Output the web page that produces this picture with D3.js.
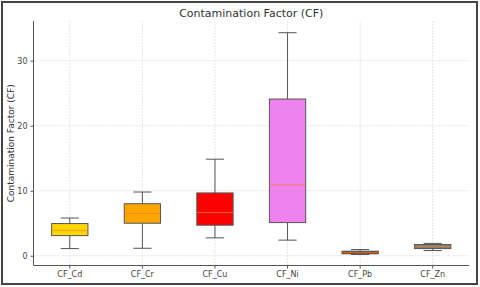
<!DOCTYPE html>
<html>
<head>
<meta charset="utf-8">
<script src="https://cdn.jsdelivr.net/npm/d3@7"></script>
<style>
  body { margin: 0; background: #fff; }
  text { font-family: "DejaVu Sans", sans-serif; }
</style>
</head>
<body>
<svg id="chart"></svg>
<script>
var width = 480, height = 287;

// box stats
var categories = ["CF_Cd", "CF_Cr", "CF_Cu", "CF_Ni", "CF_Pb", "CF_Zn"];
var whiskerLow = [1.1, 1.15, 2.75, 2.4, 0.2, 0.8];
var q1 = [3.1, 5.0, 4.7, 5.1, 0.3, 1.1];
var median = [3.9, 6.5, 6.65, 10.9, 0.5, 1.45];
var q3 = [4.95, 8.0, 9.66, 24.1, 0.7, 1.72];
var whiskerHigh = [5.8, 9.8, 14.85, 34.3, 0.95, 1.9];
var boxColors = ["#FFD700", "#FFA500", "#FF0000", "#EE82EE", "#6B2E0E", "#808080"];
var yTicks = [0, 10, 20, 30];

var rows = categories.map(function (c, i) {
  return { name: c, lo: whiskerLow[i], q1: q1[i], med: median[i], q3: q3[i], hi: whiskerHigh[i], color: boxColors[i] };
});

var svg = d3.select("#chart").attr("width", width).attr("height", height);

// outer frame
svg.append("rect")
  .attr("x", 2).attr("y", 2)
  .attr("width", 475).attr("height", 282)
  .attr("fill", "none")
  .attr("stroke", "#444")
  .attr("stroke-width", 2);

var margin = { left: 33.5, right: 469, top: 21, bottom: 265.5 };

var x = d3.scaleBand()
  .domain(categories)
  .range([margin.left, margin.right]);

var y = d3.scaleLinear()
  .domain([-1.5, 36.1])
  .range([margin.bottom, margin.top]);

// grid
svg.append("g").selectAll("line")
  .data(categories)
  .enter().append("line")
  .attr("x1", function (d) { return x(d) + x.bandwidth() / 2; })
  .attr("x2", function (d) { return x(d) + x.bandwidth() / 2; })
  .attr("y1", margin.top).attr("y2", margin.bottom)
  .attr("stroke", "#e0e0e0").attr("stroke-width", 0.8)
  .attr("stroke-dasharray", "2,1");

svg.append("g").selectAll("line")
  .data(yTicks)
  .enter().append("line")
  .attr("x1", margin.left).attr("x2", margin.right)
  .attr("y1", function (d) { return y(d); })
  .attr("y2", function (d) { return y(d); })
  .attr("stroke", "#e0e0e0").attr("stroke-width", 0.8)
  .attr("stroke-dasharray", "2,1");

// axes
var xAxis = svg.append("g")
  .attr("transform", "translate(0," + margin.bottom + ")")
  .call(d3.axisBottom(x).tickSize(3).tickPadding(3));
var yAxis = svg.append("g")
  .attr("transform", "translate(" + margin.left + ",0)")
  .call(d3.axisLeft(y).tickValues(yTicks).tickSize(3).tickPadding(3));

[xAxis, yAxis].forEach(function (a) {
  a.select(".domain").attr("stroke", "#555").attr("stroke-width", 1);
  a.selectAll(".tick line").attr("stroke", "#555");
  a.selectAll("text").attr("fill", "#444").style("font-size", "8px");
});
xAxis.select(".domain").attr("d", "M" + margin.left + ",0H" + margin.right);
yAxis.select(".domain").attr("d", "M0," + margin.bottom + "V" + margin.top);

// boxes
var boxW = x.bandwidth() * 0.5;
var capW = boxW * 0.5;
var g = svg.append("g").selectAll("g")
  .data(rows)
  .enter().append("g")
  .attr("transform", function (d) { return "translate(" + (x(d.name) + x.bandwidth() / 2) + ",0)"; });

g.append("line")
  .attr("y1", function (d) { return y(d.hi); })
  .attr("y2", function (d) { return y(d.q3); })
  .attr("stroke", "#555").attr("stroke-width", 1);
g.append("line")
  .attr("y1", function (d) { return y(d.q1); })
  .attr("y2", function (d) { return y(d.lo); })
  .attr("stroke", "#555").attr("stroke-width", 1);
g.append("line")
  .attr("x1", -capW / 2).attr("x2", capW / 2)
  .attr("y1", function (d) { return y(d.hi); })
  .attr("y2", function (d) { return y(d.hi); })
  .attr("stroke", "#555").attr("stroke-width", 1);
g.append("line")
  .attr("x1", -capW / 2).attr("x2", capW / 2)
  .attr("y1", function (d) { return y(d.lo); })
  .attr("y2", function (d) { return y(d.lo); })
  .attr("stroke", "#555").attr("stroke-width", 1);
g.append("rect")
  .attr("x", -boxW / 2).attr("width", boxW)
  .attr("y", function (d) { return y(d.q3); })
  .attr("height", function (d) { return y(d.q1) - y(d.q3); })
  .attr("fill", function (d) { return d.color; })
  .attr("stroke", "#555").attr("stroke-width", 1);
g.append("line")
  .attr("x1", -boxW / 2).attr("x2", boxW / 2)
  .attr("y1", function (d) { return y(d.med); })
  .attr("y2", function (d) { return y(d.med); })
  .attr("stroke", "#ff7f0e").attr("stroke-width", 1)
  .attr("stroke-opacity", 0.7);

// title and label
svg.append("text")
  .attr("x", (margin.left + margin.right) / 2).attr("y", 17)
  .attr("text-anchor", "middle")
  .attr("fill", "#333")
  .style("font-size", "11px")
  .text("Contamination Factor (CF)");

svg.append("text")
  .attr("transform", "translate(10.5," + ((margin.top + margin.bottom) / 2) + ") rotate(-90)")
  .attr("text-anchor", "middle")
  .attr("dy", "0.35em")
  .attr("fill", "#333")
  .style("font-size", "9px")
  .text("Contamination Factor (CF)");
</script>
</body>
</html>
